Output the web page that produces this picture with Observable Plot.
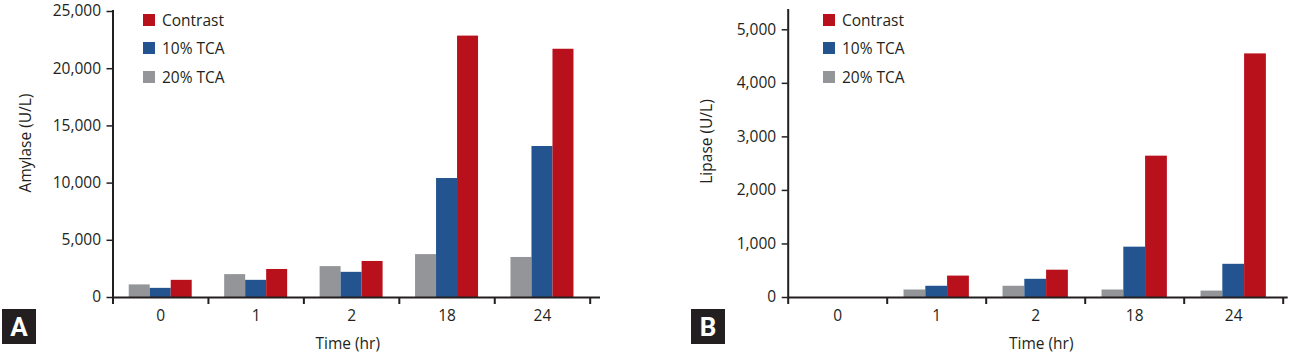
<!DOCTYPE html>
<html>
<head>
<meta charset="utf-8">
<script src="https://cdn.jsdelivr.net/npm/d3@7"></script>
<script src="https://cdn.jsdelivr.net/npm/@observablehq/plot@0.6"></script>
<style>
  html, body { margin: 0; padding: 0; background: #fff; }
  #wrap { position: relative; width: 1290px; height: 355px; overflow: hidden; font-family: "Open Sans", sans-serif; color: #231f20; }
  .panel { position: absolute; top: 0; width: 645px; height: 355px; }
  .panel svg { display: block; }
  .badge { position: absolute; top: 309px; width: 34px; height: 35px; background: #231f20; color: #fff;
           font: bold 26px Roboto, sans-serif; display: flex; align-items: center; justify-content: center; }
  .legend { position: absolute; top: 0; font-size: 15.5px; }
  .legend .row { position: absolute; left: 0; height: 20px; display: flex; align-items: center; white-space: nowrap; }
  .legend .sw { width: 12px; height: 12px; margin-right: 7px; flex: none; }
</style>
</head>
<body>
<div id="wrap"></div>
<script>
// ---- data ----
const times = ["0", "1", "2", "18", "24"];
const seriesNames = ["20% TCA", "10% TCA", "Contrast"];   // bar order, left to right
const legendNames = ["Contrast", "10% TCA", "20% TCA"];   // legend order, top to bottom
const seriesColors = ["#939598", "#24548f", "#b9111b"];

const amylaseTCA20    = [1100, 2000, 2700, 3750, 3500];
const amylaseTCA10    = [800, 1500, 2200, 10400, 13200];
const amylaseContrast = [1500, 2450, 3150, 22850, 21700];

const lipaseTCA20    = [0, 140, 210, 140, 120];
const lipaseTCA10    = [0, 210, 340, 940, 620];
const lipaseContrast = [0, 400, 510, 2640, 4550];

const amylaseTicks = [0, 5000, 10000, 15000, 20000, 25000];
const lipaseTicks  = [0, 1000, 2000, 3000, 4000, 5000];

const xLabel = "Time (hr)";
const amylaseLabel = "Amylase (U/L)";
const lipaseLabel = "Lipase (U/L)";

// ---- build ----
function rowsOf(seriesValues) {
  const rows = [];
  seriesValues.forEach((vals, si) => {
    vals.forEach((v, ti) => rows.push({ti, time: times[ti], si, series: seriesNames[si], value: v}));
  });
  return rows;
}

const ink = "#231f20";
const FONT = "Open Sans, sans-serif";
const W = 0.22; // bar width in category units

function panel(opts) {
  const rows = rowsOf(opts.series);
  const centers = times.map((_, i) => i);
  const bounds = times.map((_, i) => i - 0.5).concat([times.length - 0.5]);
  return Plot.plot({
    width: 645,
    height: 355,
    marginLeft: opts.marginLeft,
    marginRight: opts.marginRight,
    marginTop: opts.marginTop,
    marginBottom: 58,
    style: {fontFamily: FONT, fontSize: "15.5px", color: ink, background: "transparent", overflow: "visible"},
    x: {type: "linear", domain: [-0.5, times.length - 0.5], insetLeft: 0, insetRight: opts.insetRight, axis: null},
    y: {domain: [0, opts.ticks[opts.ticks.length - 1]], insetTop: opts.insetTop, axis: null},
    color: {domain: seriesNames, range: seriesColors},
    marks: [
      Plot.rectY(rows, {
        x1: d => d.ti + (d.si - 1.5) * W,
        x2: d => d.ti + (d.si - 0.5) * W,
        y: "value",
        fill: "series"
      }),
      Plot.axisY(opts.ticks, {tickSize: 6, tickPadding: 6, tickFormat: d3.format(","), label: null, stroke: ink, strokeWidth: 1.5, fill: ink}),
      Plot.axisX(bounds, {tickSize: 7, tickFormat: () => "", label: null, stroke: ink, strokeWidth: 2}),
      Plot.axisX(centers, {tickSize: 0, tickPadding: 12, tickFormat: i => times[i], label: null, fill: ink}),
      Plot.ruleY([0], {stroke: ink, strokeWidth: 2}),
      Plot.ruleX([-0.5], {stroke: ink, strokeWidth: 2}),
      Plot.text([opts.yLabel], {frameAnchor: "left", textAnchor: "middle", lineAnchor: "middle",
        dx: opts.yLabelDx, dy: opts.yLabelDy, rotate: -90, fill: ink, fontSize: 15.5}),
      Plot.text([xLabel], {frameAnchor: "bottom", textAnchor: "middle", lineAnchor: "middle",
        dx: opts.xLabelDx, dy: 47, fill: ink, fontSize: 15.5})
    ]
  });
}

const wrap = document.getElementById("wrap");

function addPanel(left, plot, legendLeft, badgeLeft, badgeText) {
  const div = document.createElement("div");
  div.className = "panel";
  div.style.left = left + "px";
  div.appendChild(plot);
  wrap.appendChild(div);

  const lg = document.createElement("div");
  lg.className = "legend";
  lg.style.left = legendLeft + "px";
  legendNames.forEach((name, i) => {
    const row = document.createElement("div");
    row.className = "row";
    row.style.top = (9.5 + i * 28.5) + "px";
    const sw = document.createElement("div");
    sw.className = "sw";
    sw.style.background = seriesColors[seriesNames.indexOf(name)];
    const tx = document.createElement("span");
    tx.textContent = name;
    row.appendChild(sw);
    row.appendChild(tx);
    lg.appendChild(row);
  });
  wrap.appendChild(lg);

  const b = document.createElement("div");
  b.className = "badge";
  b.style.left = badgeLeft + "px";
  b.textContent = badgeText;
  wrap.appendChild(b);
}

addPanel(0, panel({
  series: [amylaseTCA20, amylaseTCA10, amylaseContrast],
  ticks: amylaseTicks,
  marginLeft: 112.5, marginRight: 45, marginTop: 10, insetTop: 1, insetRight: 10.3,
  yLabel: amylaseLabel, yLabelDx: -87, yLabelDy: -11, xLabelDx: -9
}), 143, 2, "A");

addPanel(645, panel({
  series: [lipaseTCA20, lipaseTCA10, lipaseContrast],
  ticks: lipaseTicks,
  marginLeft: 142.7, marginRight: 2.3, marginTop: 9, insetTop: 20.3, insetRight: 5,
  yLabel: lipaseLabel, yLabelDx: -81, yLabelDy: -12, xLabelDx: 3
}), 823, 691, "B");
</script>
</body>
</html>
